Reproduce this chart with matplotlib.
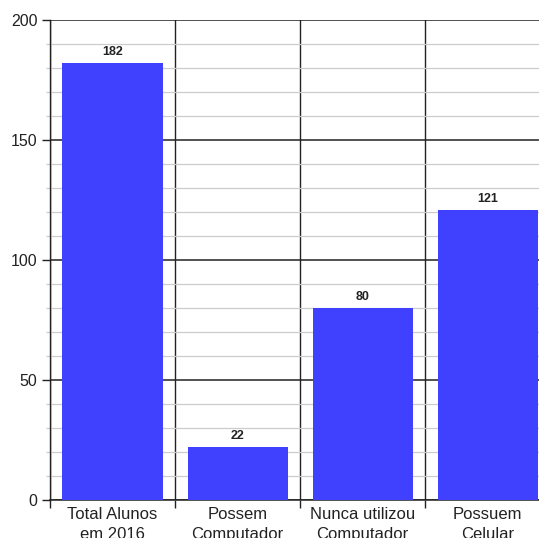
import matplotlib
matplotlib.use("Agg")
import matplotlib.pyplot as plt
from matplotlib.ticker import MultipleLocator, FixedLocator, NullFormatter
import numpy as np

categories = ["Total Alunos\nem 2016", "Possem\nComputador", "Nunca utilizou\nComputador", "Possuem\nCelular"]
values = [182, 22, 80, 121]

plt.rcParams["font.family"] = ["Liberation Sans", "DejaVu Sans"]

W, H = 539, 538
fig = plt.figure(figsize=(W / 100, H / 100), dpi=100)
ax = fig.add_axes([50 / W, 38 / H, 500 / W, 480 / H])

centers = np.arange(len(categories)) + 0.5
bars = ax.bar(centers, values, width=0.8, color="#4040FF", zorder=3)
for b, v in zip(bars, values):
    ax.text(b.get_x() + b.get_width() / 2, v + 2.0, str(v), ha="center", va="bottom",
            fontsize=9, fontweight="bold", color="#222222", zorder=4)

ax.set_xlim(0, len(categories))
ax.set_ylim(0, 200)

# horizontal grid: dark major lines every 50, light minor lines every 10
ax.yaxis.set_major_locator(MultipleLocator(50))
ax.yaxis.set_minor_locator(MultipleLocator(10))
ax.grid(True, axis="y", which="major", color="#222222", linewidth=1.1, zorder=1)
ax.grid(True, axis="y", which="minor", color="#cccccc", linewidth=0.9, zorder=0)

# vertical separators between categories, labels centered between them
ax.xaxis.set_major_locator(FixedLocator(np.arange(len(categories) + 1)))
ax.xaxis.set_major_formatter(NullFormatter())
ax.xaxis.set_minor_locator(FixedLocator(centers))
ax.set_xticklabels(categories, minor=True, linespacing=1.4)
ax.grid(True, axis="x", which="major", color="#222222", linewidth=1.0, zorder=1)
ax.tick_params(axis="x", which="major", length=6, width=1.0, color="#222222")
ax.tick_params(axis="x", which="minor", length=0, pad=5, labelsize=12, labelcolor="#222222")
ax.tick_params(axis="y", which="major", length=6, width=1.0, color="#222222",
               labelsize=11.5, labelcolor="#222222", pad=3)
ax.tick_params(axis="y", which="minor", length=3, width=0.9, color="#cccccc")

for side in ["top", "right"]:
    ax.spines[side].set_visible(False)
ax.spines["left"].set_color("#222222")
ax.spines["bottom"].set_color("#222222")
ax.spines["left"].set_linewidth(1.0)
ax.spines["bottom"].set_linewidth(1.1)

fig.savefig("out.png", dpi=100)
